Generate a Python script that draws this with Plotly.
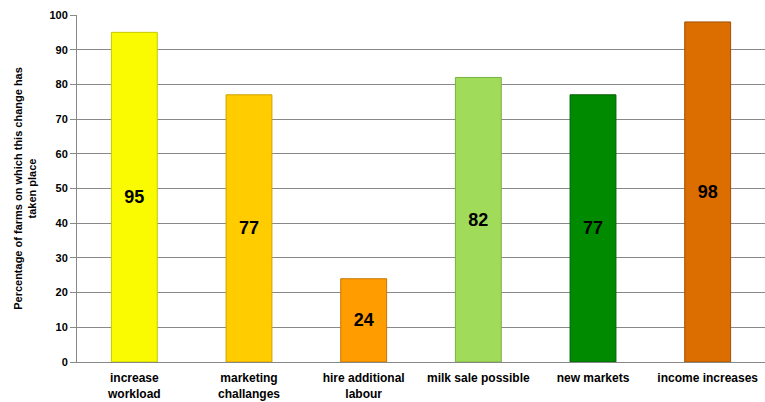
import plotly.graph_objects as go

categories = ["increase<br>workload", "marketing<br>challanges", "hire additional<br>labour",
              "milk sale possible", "new markets", "income increases"]
values = [95, 77, 24, 82, 77, 98]
colors = ["#FAFA00", "#FFCC00", "#FF9C00", "#A0DC5A", "#008A00", "#DC6E00"]
edges = ["#C8C800", "#D0A000", "#C87800", "#78B040", "#006000", "#A05000"]

fig = go.Figure(go.Bar(
    x=categories, y=values,
    marker=dict(color=colors, line=dict(color=edges, width=1)),
    width=0.4,
    text=[str(v) for v in values],
    textposition="inside", insidetextanchor="middle",
    textfont=dict(family="Liberation Sans, Arial", size=18, color="black", weight="bold"),
    textangle=0,
))
fig.update_layout(
    width=765, height=402,
    margin=dict(l=77, r=0, t=15, b=40),
    paper_bgcolor="white", plot_bgcolor="white",
    showlegend=False,
    font=dict(family="Liberation Sans, Arial", color="black"),
)
fig.update_yaxes(
    range=[0, 100], dtick=10,
    showgrid=True, gridcolor="#888888", gridwidth=1,
    showline=True, linecolor="#888888", linewidth=1,
    ticks="outside", ticklen=6, tickcolor="#888888",
    tickfont=dict(size=11, weight="bold"),
    zeroline=False,
    title=dict(text="Percentage of farms on which this change has<br>taken place",
               font=dict(size=11, weight="bold"), standoff=10),
)
fig.update_xaxes(
    showline=True, linecolor="#888888", linewidth=1,
    tickfont=dict(size=12, weight="bold"),
    tickangle=0,
    ticklabelstandoff=5,
)
fig.write_html("out.html")
